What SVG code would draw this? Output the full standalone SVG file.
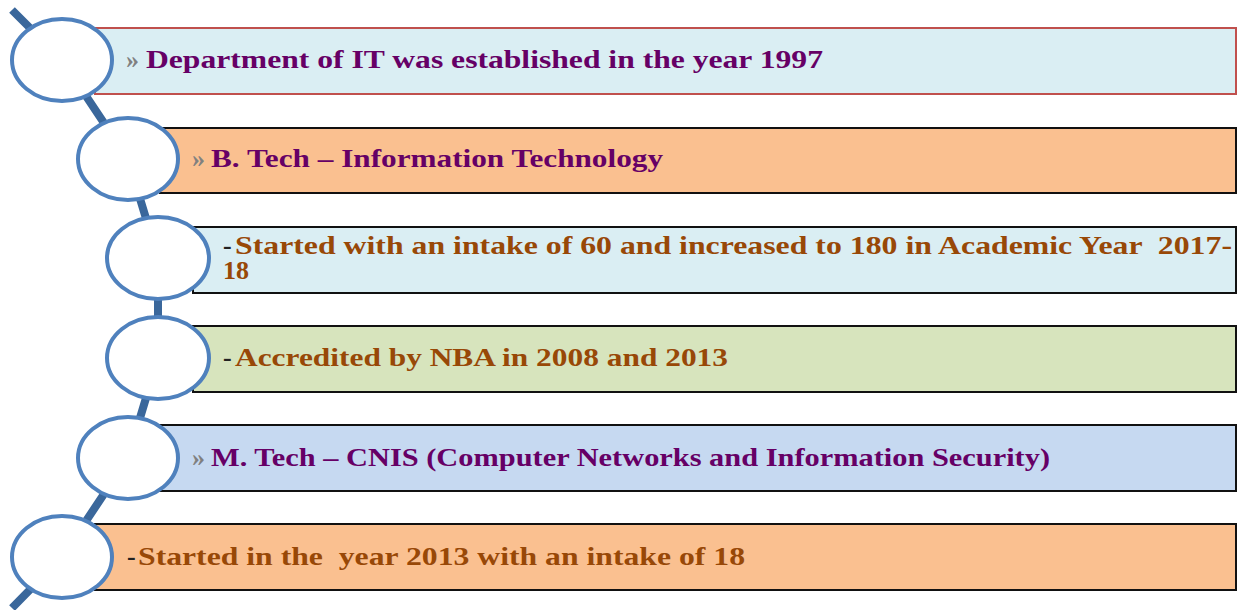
<svg xmlns="http://www.w3.org/2000/svg" width="1238" height="610" viewBox="0 0 1238 610">
<style>
.bar{stroke:#111;stroke-width:2}
.node{fill:#fff;stroke:#4f81bd;stroke-width:4}
.t{font-family:"Liberation Serif","DejaVu Serif",serif;font-weight:bold;font-size:26px;white-space:pre}
.p{fill:#660066}
.o{fill:#984807}
.g{fill:#808080}
.k{fill:#222}
</style>
<rect x="0" y="0" width="1238" height="610" fill="#fff"/>
<g id="bars">
<rect id="bar1" x="95" y="28" width="1141" height="66" fill="#daeef3" stroke="#c0504d" stroke-width="2"/>
<rect id="bar2" class="bar" x="160" y="128" width="1076" height="65" fill="#fac090"/>
<rect id="bar3" class="bar" x="193" y="227" width="1043" height="66" fill="#daeef3"/>
<rect id="bar4" class="bar" x="193" y="326" width="1043" height="66" fill="#d7e4bd"/>
<rect id="bar5" class="bar" x="160" y="425" width="1076" height="66" fill="#c6d9f1"/>
<rect id="bar6" class="bar" x="95" y="524" width="1141" height="66" fill="#fac090"/>
</g>
<g id="connectors">
<polyline points="12,10 62,60 128,159 158,258 158,358 128,458 62,557 12,608" fill="none" stroke="#3a679b" stroke-width="8" stroke-linejoin="round"/>
</g>
<g id="node1"><ellipse class="node" cx="62" cy="60" rx="50" ry="41"/>
<text class="t g" x="126" y="68">»</text><text class="t p" x="146" y="68" textLength="677" lengthAdjust="spacingAndGlyphs">Department of IT was established in the year 1997</text></g>
<g id="node2"><ellipse class="node" cx="128" cy="159" rx="50" ry="41"/>
<text class="t g" x="192" y="167">»</text><text class="t p" x="211" y="167" textLength="452" lengthAdjust="spacingAndGlyphs">B. Tech – Information Technology</text></g>
<g id="node3"><ellipse class="node" cx="158" cy="258" rx="51" ry="41"/>
<text class="t k" x="223" y="254">-</text><text class="t o" x="235" y="254" textLength="997" lengthAdjust="spacingAndGlyphs">Started with an intake of 60 and increased to 180 in Academic Year  2017-</text>
<text class="t o" x="223" y="279">18</text></g>
<g id="node4"><ellipse class="node" cx="158" cy="358" rx="51" ry="41"/>
<text class="t k" x="223" y="366">-</text><text class="t o" x="235" y="366" textLength="493" lengthAdjust="spacingAndGlyphs">Accredited by NBA in 2008 and 2013</text></g>
<g id="node5"><ellipse class="node" cx="128" cy="458" rx="50" ry="41"/>
<text class="t g" x="192" y="466">»</text><text class="t p" x="211" y="466" textLength="839" lengthAdjust="spacingAndGlyphs">M. Tech – CNIS (Computer Networks and Information Security)</text></g>
<g id="node6"><ellipse class="node" cx="62" cy="557" rx="50" ry="41"/>
<text class="t k" x="127" y="565">-</text><text class="t o" x="138" y="565" textLength="607" lengthAdjust="spacingAndGlyphs">Started in the  year 2013 with an intake of 18</text></g>
</svg>
